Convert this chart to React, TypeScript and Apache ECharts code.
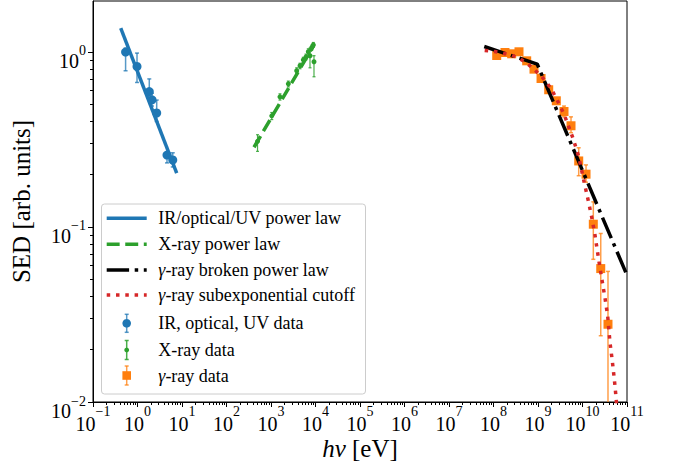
import React, { useEffect, useRef } from 'react';
import * as echarts from 'echarts';

// ---------- axis ranges & ticks ----------
const X_MIN = 0.1;
const X_MAX = 1e11;
const Y_MIN = 0.01;
const Y_MAX = 1.95;
const xMajorTicks = [1e-1, 1, 1e1, 1e2, 1e3, 1e4, 1e5, 1e6, 1e7, 1e8, 1e9, 1e10, 1e11];
const yMajorTicks = [1e-2, 1e-1, 1];
const minorMultipliers = [2, 3, 4, 5, 6, 7, 8, 9];

// ---------- IR / optical / UV data ----------
const optEnergy = [0.54, 0.975, 1.84, 2.12, 2.7, 4.6, 6.2];
const optSed = [0.996, 0.824, 0.593, 0.532, 0.447, 0.257, 0.241];
const optLo = [0.779, 0.668, 0.53, 0.49, 0.4, 0.232, 0.22];
const optHi = [1.05, 0.983, 0.7, 0.58, 0.53, 0.265, 0.265];

// ---------- X-ray data ----------
const xrayEnergy = [498, 1040, 1590, 2450, 3780, 4490, 5320, 6120, 6890, 7520, 8220, 8930, 9250];
const xraySed = [0.308, 0.431, 0.553, 0.656, 0.779, 0.832, 0.9, 0.936, 1.0, 0.949, 1.054, 1.096, 0.877];
const xrayLo = [0.27, 0.41, 0.53, 0.63, 0.75, 0.8, 0.87, 0.9, 0.96, 0.81, 1.02, 1.06, 0.72];
const xrayHi = [0.336, 0.45, 0.575, 0.68, 0.81, 0.86, 0.93, 0.97, 1.04, 1.05, 1.09, 1.13, 0.95];

// ---------- gamma-ray data ----------
const gammaEnergy = [1.18e8, 1.81e8, 2.56e8, 3.74e8, 5.57e8, 8.13e8, 1.17e9, 1.74e9, 2.58e9, 3.84e9, 5.52e9, 8.22e9, 1.2e10, 1.75e10, 2.57e10, 3.74e10];
const gammaSed = [0.952, 0.991, 0.974, 1.0, 0.888, 0.796, 0.704, 0.607, 0.525, 0.456, 0.378, 0.238, 0.2, 0.1036, 0.0578, 0.0278];
const gammaLo = [0.93, 0.965, 0.95, 0.975, 0.86, 0.77, 0.68, 0.585, 0.505, 0.425, 0.345, 0.196, 0.18, 0.0653, 0.0239, 0.005];
const gammaHi = [0.975, 1.015, 1.0, 1.025, 0.915, 0.82, 0.73, 0.63, 0.545, 0.49, 0.425, 0.283, 0.226, 0.139, 0.0917, 0.0557];

// ---------- model curves ----------
const optLawE = [0.42, 7.6];
const optLawS = [1.366, 0.203];
const xrayLawE = [415, 9250];
const xrayLawS = [0.285, 1.096];
const bplE = [6.2e7, 9.6e8, 1e11];
const bplS = [1.072, 0.851, 0.053];
const cutoffE = [6.34e7, 1.04e8, 1.61e8, 2.56e8, 3.94e8, 5.87e8, 1.15e9, 1.57e9, 2.03e9, 2.54e9, 3.12e9, 3.84e9, 4.48e9, 6.21e9, 8.22e9, 1.1e10, 1.35e10, 1.63e10, 1.91e10, 2.35e10, 2.74e10, 3.21e10, 3.68e10, 4.15e10, 4.68e10, 5.19e10, 5.66e10, 6.1e10];
const cutoffS = [1.017, 1.004, 0.983, 0.957, 0.912, 0.854, 0.732, 0.668, 0.607, 0.546, 0.491, 0.441, 0.397, 0.317, 0.252, 0.178, 0.141, 0.112, 0.0897, 0.0632, 0.0498, 0.0391, 0.031, 0.0218, 0.0171, 0.0135, 0.0107, 0.0085];

// ---------- legend labels ----------
const legendLabels = [
  'IR/optical/UV power law',
  'X-ray power law',
  '{i|γ}-ray broken power law',
  '{i|γ}-ray subexponential cutoff',
  'IR, optical, UV data',
  'X-ray data',
  '{i|γ}-ray data',
];

const BLUE = '#1f77b4';
const GREEN = '#2ca02c';
const RED = '#d62728';
const ORANGE = '#ff7f0e';
const SERIF = 'Liberation Serif';
const LW = 3.5;

function minorTicks(min: number, max: number): number[] {
  const out: number[] = [];
  for (let e = Math.floor(Math.log10(min)); e <= Math.ceil(Math.log10(max)); e++) {
    for (const m of minorMultipliers) {
      const v = m * Math.pow(10, e);
      if (v > min && v < max) out.push(v);
    }
  }
  return out;
}

function supText(v: number): string {
  const e = Math.round(Math.log10(v));
  return e < 0 ? '\u2212' + -e : String(e);
}

const zip = (xs: number[], ys: number[]) => xs.map((x, i) => [x, ys[i]]);

function errorSeries(xs: number[], lo: number[], hi: number[], color: string, width: number, cap: number) {
  return {
    type: 'custom',
    xAxisIndex: 0,
    yAxisIndex: 0,
    clip: true,
    z: 2,
    silent: true,
    data: xs.map((x, i) => [x, lo[i], hi[i]]),
    encode: { x: 0, y: [1, 2] },
    renderItem: (_params: any, api: any) => {
      const x = api.value(0);
      const p1 = api.coord([x, api.value(1)]);
      const p2 = api.coord([x, api.value(2)]);
      const style = { stroke: color, lineWidth: width };
      return {
        type: 'group',
        children: [
          { type: 'line', shape: { x1: p1[0], y1: p1[1], x2: p2[0], y2: p2[1] }, style },
          { type: 'line', shape: { x1: p1[0] - cap, y1: p1[1], x2: p1[0] + cap, y2: p1[1] }, style },
          { type: 'line', shape: { x1: p2[0] - cap, y1: p2[1], x2: p2[0] + cap, y2: p2[1] }, style },
        ],
      };
    },
  };
}

function buildLegend(): any[] {
  const left = 101.5;
  const top = 204;
  const w = 264;
  const h = 190;
  const hx1 = 106.7;
  const hx2 = 146.7;
  const hc = (hx1 + hx2) / 2;
  const tx = 158.3;
  const rows = [218.3, 244.3, 270, 295, 323.3, 350, 375.5];
  const els: any[] = [
    {
      type: 'rect',
      shape: { x: left, y: top, width: w, height: h, r: 3 },
      style: { fill: 'rgba(255,255,255,0.8)', stroke: '#cccccc', lineWidth: 1 },
    },
  ];
  const lineStyles = [
    { stroke: BLUE, lineWidth: LW },
    { stroke: GREEN, lineWidth: LW, lineDash: [12.95, 5.6] },
    { stroke: '#000', lineWidth: LW, lineDash: [22.4, 5.6, 3.5, 5.6] },
    { stroke: RED, lineWidth: LW, lineDash: [3.5, 5.8] },
  ];
  lineStyles.forEach((st, i) => {
    els.push({ type: 'line', shape: { x1: hx1, y1: rows[i], x2: hx2, y2: rows[i] }, style: st });
  });
  const eb = [
    { c: 'rgba(31,119,180,0.75)', half: 9 },
    { c: 'rgba(44,160,44,0.85)', half: 9.5 },
    { c: 'rgba(255,127,14,0.75)', half: 9.5 },
  ];
  eb.forEach((e, k) => {
    const y = rows[4 + k];
    const st = { stroke: e.c, lineWidth: 1.5 };
    els.push({ type: 'line', shape: { x1: hc, y1: y - e.half, x2: hc, y2: y + e.half }, style: st });
    els.push({ type: 'line', shape: { x1: hc - 2, y1: y - e.half, x2: hc + 2, y2: y - e.half }, style: st });
    els.push({ type: 'line', shape: { x1: hc - 2, y1: y + e.half, x2: hc + 2, y2: y + e.half }, style: st });
  });
  els.push({ type: 'circle', shape: { cx: hc, cy: rows[4], r: 4.3 }, style: { fill: BLUE } });
  els.push({ type: 'circle', shape: { cx: hc, cy: rows[5], r: 2.4 }, style: { fill: GREEN } });
  els.push({ type: 'rect', shape: { x: hc - 4.3, y: rows[6] - 4.3, width: 8.6, height: 8.6 }, style: { fill: ORANGE } });
  legendLabels.forEach((t, i) => {
    els.push({
      type: 'text',
      x: tx,
      y: rows[i],
      style: {
        text: t,
        fontSize: 18,
        fontFamily: SERIF,
        fill: '#000',
        verticalAlign: 'middle',
        align: 'left',
        rich: { i: { fontStyle: 'italic', fontSize: 18, fontFamily: SERIF, fill: '#000' } },
      },
    });
  });
  return els;
}

function textEl(text: string, x: number, y: number, size: number) {
  return {
    type: 'text',
    x,
    y,
    style: { text, fontSize: size, fontFamily: SERIF, fill: '#000', align: 'left', verticalAlign: 'middle' },
  };
}

export default function App() {
  const ref = useRef<HTMLDivElement>(null);
  useEffect(() => {
    if (!ref.current) return;
    const chart = echarts.init(ref.current, undefined, { renderer: 'svg' });
    const tickLine = { color: '#000', width: 1 };
    const option: any = {
      animation: false,
      backgroundColor: '#fff',
      textStyle: { fontFamily: SERIF },
      grid: {
        left: 93,
        right: 46,
        top: 1,
        bottom: 68,
        show: true,
        borderColor: '#000',
        borderWidth: 1,
        backgroundColor: 'transparent',
      },
      xAxis: [
        {
          type: 'log',
          logBase: 10,
          min: X_MIN,
          max: X_MAX,
          position: 'bottom',
          axisLine: { show: true, lineStyle: tickLine },
          axisTick: { show: true, customValues: xMajorTicks, length: 5, lineStyle: tickLine },
          axisLabel: { show: false },
          splitLine: { show: false },
          name: '{i|hν} [eV]',
          nameLocation: 'middle',
          nameGap: 34,
          nameTextStyle: {
            fontFamily: SERIF,
            fontSize: 25,
            color: '#000',
            rich: {
              i: { fontStyle: 'italic', fontFamily: SERIF, fontSize: 25, color: '#000' },
            },
          },
        },
        {
          type: 'log',
          logBase: 10,
          min: X_MIN,
          max: X_MAX,
          position: 'bottom',
          axisLine: { show: false },
          axisTick: { show: true, customValues: minorTicks(X_MIN, X_MAX), length: 3, lineStyle: tickLine },
          axisLabel: { show: false },
          splitLine: { show: false },
        },
      ],
      yAxis: [
        {
          type: 'log',
          logBase: 10,
          min: Y_MIN,
          max: Y_MAX,
          position: 'left',
          axisLine: { show: true, lineStyle: tickLine },
          axisTick: { show: true, customValues: yMajorTicks, length: 5, lineStyle: tickLine },
          axisLabel: { show: false },
          splitLine: { show: false },
          name: 'SED [arb. units]',
          nameLocation: 'middle',
          nameGap: 59,
          nameTextStyle: { fontFamily: SERIF, fontSize: 25, color: '#000' },
        },
        {
          type: 'log',
          logBase: 10,
          min: Y_MIN,
          max: Y_MAX,
          position: 'left',
          axisLine: { show: false },
          axisTick: { show: true, customValues: minorTicks(Y_MIN, Y_MAX), length: 3, lineStyle: tickLine },
          axisLabel: { show: false },
          splitLine: { show: false },
        },
      ],
      series: [
        errorSeries(optEnergy, optLo, optHi, 'rgba(31,119,180,0.75)', 1.5, 2),
        errorSeries(xrayEnergy, xrayLo, xrayHi, 'rgba(44,160,44,0.85)', 1.2, 1.5),
        errorSeries(gammaEnergy, gammaLo, gammaHi, 'rgba(255,127,14,0.75)', 1.5, 2),
        {
          type: 'scatter', name: 'IR, optical, UV data', xAxisIndex: 0, yAxisIndex: 0, z: 3, silent: true,
          symbol: 'circle', symbolSize: 9, itemStyle: { color: BLUE, opacity: 1 },
          data: zip(optEnergy, optSed),
        },
        {
          type: 'scatter', name: 'X-ray data', xAxisIndex: 0, yAxisIndex: 0, z: 3, silent: true,
          symbol: 'circle', symbolSize: 5, itemStyle: { color: GREEN, opacity: 1 },
          data: zip(xrayEnergy, xraySed),
        },
        {
          type: 'scatter', name: 'γ-ray data', xAxisIndex: 0, yAxisIndex: 0, z: 3, silent: true,
          symbol: 'rect', symbolSize: 9, itemStyle: { color: ORANGE, opacity: 1 },
          data: zip(gammaEnergy, gammaSed),
        },
        {
          type: 'line', name: 'IR/optical/UV power law', xAxisIndex: 0, yAxisIndex: 0, z: 5, silent: true,
          showSymbol: false, symbol: 'none', clip: true,
          lineStyle: { color: BLUE, width: LW },
          data: zip(optLawE, optLawS),
        },
        {
          type: 'line', name: 'X-ray power law', xAxisIndex: 0, yAxisIndex: 0, z: 5, silent: true,
          showSymbol: false, symbol: 'none', clip: true,
          lineStyle: { color: GREEN, width: LW, type: [12.95, 5.6] },
          data: zip(xrayLawE, xrayLawS),
        },
        {
          type: 'line', name: 'γ-ray broken power law', xAxisIndex: 0, yAxisIndex: 0, z: 5, silent: true,
          showSymbol: false, symbol: 'none', clip: true,
          lineStyle: { color: '#000', width: LW, type: [22.4, 5.6, 3.5, 5.6] },
          data: zip(bplE, bplS),
        },
        {
          type: 'line', name: 'γ-ray subexponential cutoff', xAxisIndex: 0, yAxisIndex: 0, z: 6, silent: true,
          showSymbol: false, symbol: 'none', clip: true,
          lineStyle: { color: RED, width: LW, type: [3.5, 5.8] },
          data: zip(cutoffE, cutoffS),
        },
      ],
    };
    chart.setOption(option);

    // tick labels "10^n", positioned through the axes' own scales
    const canvas = document.createElement('canvas');
    const ctx = canvas.getContext('2d');
    const measure = (t: string, size: number) => {
      if (!ctx) return t.length * size * 0.5;
      ctx.font = `${size}px "${SERIF}"`;
      return ctx.measureText(t).width;
    };
    const axisY = chart.convertToPixel({ yAxisIndex: 0 }, Y_MIN) as number;
    const axisX = chart.convertToPixel({ xAxisIndex: 0 }, X_MIN) as number;
    const wb = measure('10', 20);
    const tickTexts: any[] = [];
    xMajorTicks.forEach((v) => {
      const px = chart.convertToPixel({ xAxisIndex: 0 }, v) as number;
      const sup = supText(v);
      const ws = measure(sup, 14);
      const x0 = px - (wb + ws) / 2;
      tickTexts.push(textEl('10', x0, axisY + 22, 20));
      tickTexts.push(textEl(sup, x0 + wb, axisY + 9, 14));
    });
    yMajorTicks.forEach((v) => {
      const py = chart.convertToPixel({ yAxisIndex: 0 }, v) as number;
      const sup = supText(v);
      const ws = measure(sup, 14);
      const right = axisX - 7;
      tickTexts.push(textEl('10', right - ws - wb, py + 9, 20));
      tickTexts.push(textEl(sup, right - ws, py - 1, 14));
    });

    chart.setOption({
      graphic: [
        { type: 'group', id: 'ticklabels', z: 90, children: tickTexts },
        { type: 'group', id: 'legend', z: 100, children: buildLegend() },
      ],
    });
    return () => chart.dispose();
  }, []);
  return (
    <div
      ref={ref}
      style={{ position: 'absolute', left: 0, top: 0, width: 673, height: 470, background: '#fff' }}
    />
  );
}
